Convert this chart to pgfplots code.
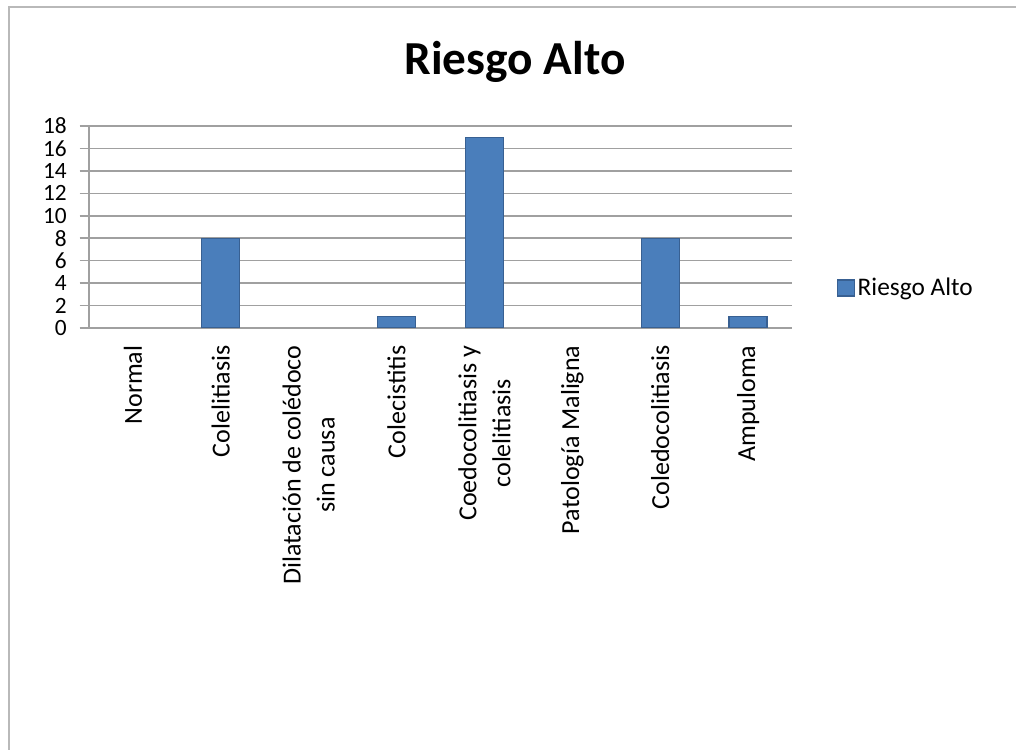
\documentclass[border=0pt]{standalone}
\usepackage{pgfplots}
\pgfplotsset{compat=1.18}
\usepackage{fontspec}
\setmainfont{Carlito}
\definecolor{barblue}{RGB}{74,126,187}
\definecolor{bardark}{RGB}{56,96,146}
\definecolor{gridgray}{RGB}{160,160,160}
\definecolor{framegray}{RGB}{185,185,185}
\begin{document}
\begin{tikzpicture}[x=1pt,y=1pt]
\useasboundingbox (0,0) rectangle (762,561.75);
\draw[framegray, line width=2pt] (6.75,-10) -- (6.75,556.5) -- (775,556.5);
\node[font=\bfseries\fontsize{35.5}{40}\selectfont] at (386.25,515.5) {Riesgo Alto};
\begin{axis}[
  at={(66.75pt,315.75pt)}, anchor=south west,
  scale only axis, width=527.25pt, height=151.5pt,
  xmin=-0.5, xmax=7.5, ymin=0, ymax=18,
  ytick={0,2,...,18},
  xtick={0,...,7},
  xticklabels={Normal,Colelitiasis,{Dilatación de colédoco\\sin causa},Colecistitis,{Coedocolitiasis y\\colelitiasis},Patología Maligna,Coledocolitiasis,Ampuloma},
  xticklabel style={rotate=90, anchor=east, align=center, font=\fontsize{19.5}{25.5}\selectfont, inner sep=1pt},
  yticklabel style={font=\fontsize{17.5}{18}\selectfont, inner sep=0.5pt},
  /pgf/number format/assume math mode=true,
  x tick style={draw=none},
  y tick style={gridgray, line width=1.2pt},
  major tick length=7pt,
  tick align=outside,
  ymajorgrids, grid style={gridgray, line width=1.2pt},
  axis x line*=bottom, axis y line*=left,
  axis line style={gridgray, line width=1.2pt, -},
  xticklabel shift=5pt, yticklabel shift=9pt,
  ybar, bar width=28.5pt,
  legend style={at={(1.058,0.198)}, anchor=west, draw=none, fill=none, font=\fontsize{19}{21}\selectfont},
  legend image code/.code={\fill[barblue, draw=bardark] (0pt,-6pt) rectangle (12.5pt,6pt);},
]
\addplot[fill=barblue, draw=bardark, line width=1pt] coordinates {(1,8) (3,1) (4,17) (6,8) (7,1)};
\addlegendentry{Riesgo Alto}
\end{axis}
\end{tikzpicture}
\end{document}
